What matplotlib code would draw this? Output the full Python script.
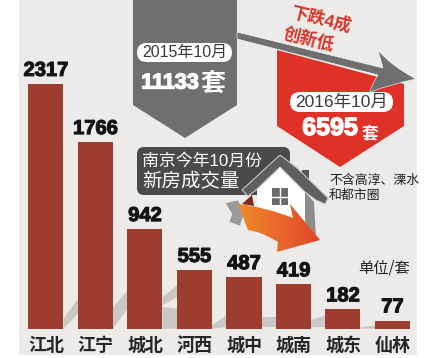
import matplotlib
matplotlib.use("Agg")
import numpy as np
import matplotlib.pyplot as plt
import matplotlib.patheffects as pe
from matplotlib.colors import LinearSegmentedColormap
from matplotlib.patches import Polygon, FancyBboxPatch, PathPatch, Rectangle
from matplotlib.path import Path

districts = ['江北', '江宁', '城北', '河西', '城中', '城南', '城东', '仙林']
deals = [2317, 1766, 942, 555, 487, 419, 182, 77]

total_2015 = '11133'
total_2016 = '6595'

cjk = 'Noto Sans CJK SC'
latin = ['Liberation Sans', 'Noto Sans CJK SC']
plt.rcParams['font.family'] = [cjk, 'DejaVu Sans']

BG = '#ecebe9'
BAR = '#9c3d30'
GREY = '#6f6f6f'
RED = '#e03129'
DARK = '#4a4a4a'
SHADOW = '#c9c8c6'

fig = plt.figure(figsize=(4.25, 3.58), dpi=100, facecolor='white')

# pixel axes for the poster decoration
deco = fig.add_axes([0, 0, 1, 1], zorder=0)
deco.set_xlim(0, 425)
deco.set_ylim(358, 0)
deco.axis('off')

deco.add_patch(Rectangle((19, 0), 398, 355, fc=BG, ec='none'))

# bars in real data units
base_px = 328.7
step_px = 49.5
first_px = 46
unit_px = 0.1056
ax = fig.add_axes([0, (358 - base_px) / 358, 1, base_px / 358], zorder=1)
ax.patch.set_alpha(0)
ax.set_xlim(-first_px / step_px, (425 - first_px) / step_px)
ax.set_ylim(0, base_px / unit_px)
for s in ax.spines.values():
    s.set_visible(False)
ax.set_yticks([])

w = 35 / step_px
xs = list(range(len(deals)))

# cast shadows between bars: gap index, low and high edge on both sides
shadows = [(0, 0, 95, 142, 284), (1, 0, 205, 189, 363), (2, 221, 300, 300, 410), (2, 0, 205, 0, 190),
           (3, 0, 35, 15, 126), (4, 15, 110, 15, 110), (5, 15, 80, 15, 126), (6, 0, 15, 0, 30)]
for i, lo0, hi0, lo1, hi1 in shadows:
    r = i + w / 2
    ax.fill([r, r, r + 1 - w, r + 1 - w], [lo0, hi0, hi1, lo1], color=SHADOW, lw=0, zorder=1)

ax.bar(xs, deals, width=w, color=BAR, zorder=2)
ax.set_xticks(xs)
ax.set_xticklabels(districts, fontsize=13, fontweight='bold', color='#262626')
ax.tick_params(axis='x', length=0, pad=5)
for x, v in zip(xs, deals):
    ax.annotate(str(v), (x, v), xytext=(0, 3), textcoords='offset points', ha='center', va='bottom',
                family='Liberation Sans', fontsize=14.5, fontweight='bold', color='#141414', annotation_clip=False,
                path_effects=[pe.withStroke(linewidth=0.8, foreground='#141414')])

# the two pentagons
deco.add_patch(Polygon([(133, 0), (237, 0), (237, 105), (185, 138), (133, 105)], fc=GREY, ec='none'))
deco.add_patch(Polygon([(277, 50), (404, 84), (404, 126), (340, 167), (277, 126)], fc=RED, ec='none'))

# arrow running from 2015 to 2016
arrow_verts = [(237, 32), (383, 68), (378, 50), (390, 65), (416, 79), (392, 84), (370, 92),
               (372, 84), (378, 75), (237, 39), (237, 32)]
arrow_codes = [Path.MOVETO, Path.LINETO, Path.LINETO, Path.CURVE3, Path.CURVE3, Path.CURVE3, Path.CURVE3,
               Path.CURVE3, Path.CURVE3, Path.LINETO, Path.CLOSEPOLY]
deco.add_patch(PathPatch(Path(arrow_verts, arrow_codes), fc=GREY, ec='white', lw=0.4))

deco.text(321, 19, '下跌4成', rotation=-14, ha='center', va='center', rotation_mode='anchor',
          family=latin, fontsize=12.5, fontweight='bold', color='#d8352b')
deco.text(309, 39, '创新低', rotation=-14, ha='center', va='center', rotation_mode='anchor',
          fontsize=12.5, fontweight='bold', color='#d8352b')


def pill(x0, y0, x1, y1, label, size):
    r = (y1 - y0) / 2
    deco.add_patch(FancyBboxPatch((x0, y0), x1 - x0, y1 - y0, boxstyle=f'round,pad=0,rounding_size={r}',
                                  fc='white', ec='none'))
    deco.text((x0 + x1) / 2, (y0 + y1) / 2, label, ha='center', va='center', family=latin, fontsize=size,
              color='#3a3a3a')


pill(137, 43, 232, 62, '2015年10月', 11.5)
pill(290, 92, 393, 112, '2016年10月', 12.5)

white_stroke = [pe.withStroke(linewidth=1.0, foreground='white')]
deco.text(170, 83, total_2015, ha='center', va='center', family='Liberation Sans', fontsize=15.5, fontweight='bold',
          color='white', path_effects=white_stroke)
deco.text(213, 84, '套', ha='center', va='center', fontsize=18, fontweight='bold', color='white')
deco.text(330, 128, total_2016, ha='center', va='center', family='Liberation Sans', fontsize=18, fontweight='bold',
          color='white', path_effects=white_stroke)
deco.text(370, 133, '套', ha='center', va='center', fontsize=12, fontweight='bold', color='white')

# dark caption box
deco.add_patch(FancyBboxPatch((137, 147), 153, 48, boxstyle='round,pad=0,rounding_size=7', fc=DARK, ec='none'))
deco.text(142, 161, '南京今年10月份', ha='left', va='center', family=latin, fontsize=12.2, fontweight='medium',
          color='white')
deco.text(142, 182, '新房成交量', ha='left', va='center', fontsize=14, fontweight='medium', color='white')

# house
deco.add_patch(Polygon([(225, 203), (238, 200), (245, 212), (240, 226), (229, 222), (232, 214)], fc='#9a9a9a',
                       ec='#e6e6e6', lw=0.6, zorder=3))
deco.add_patch(Polygon([(242, 204), (252, 195), (254, 206)], fc='#7a2a20', ec='none', zorder=3))
deco.add_patch(Polygon([(302, 170), (309, 170), (309, 190), (302, 186)], fc='#555555', ec='none', zorder=3))
deco.add_patch(Polygon([(257, 187), (280, 165), (305, 192), (305, 235), (257, 235)], fc='white', ec='none', zorder=3))
deco.add_patch(Polygon([(305, 192), (314, 202), (316, 238), (305, 222)], fc='#8c8c8c', ec='none', zorder=3))
deco.add_patch(Polygon([(242, 190), (280, 155), (297, 168), (328, 198), (325, 204), (316, 200), (305, 192),
                        (280, 167), (255, 191), (248, 196)], fc='#5f5f5f', ec='#c4c4c4', lw=0.8, zorder=4))
deco.add_patch(Rectangle((272, 188), 16, 17, fc='#6a6a6a', ec='none', zorder=4))
deco.plot([280, 280], [188, 205], color='white', lw=1, zorder=5)
deco.plot([272, 288], [196.5, 196.5], color='white', lw=1, zorder=5)

# orange arrow across the house
orange_verts = [(238, 204), (265, 207), (293, 218), (290, 204), (320, 240), (277, 252), (278, 242),
                (262, 232), (248, 230), (238, 204)]
orange_codes = [Path.MOVETO, Path.CURVE3, Path.CURVE3, Path.LINETO, Path.LINETO, Path.LINETO, Path.LINETO,
                Path.CURVE3, Path.CURVE3, Path.CLOSEPOLY]
orange_path = PathPatch(Path(orange_verts, orange_codes), fc='none', ec='none', zorder=6)
deco.add_patch(orange_path)
ramp = LinearSegmentedColormap.from_list('ramp', ['#f08a2c', '#e2452a'])
grad = deco.imshow(np.linspace(0, 1, 64).reshape(1, -1), extent=(238, 320, 252, 204), cmap=ramp, aspect='auto',
                   zorder=6)
grad.set_clip_path(orange_path)
deco.set_xlim(0, 425)
deco.set_ylim(358, 0)

deco.text(329, 180, '不含高淳、溧水', ha='left', va='center', fontsize=9.3, fontweight='medium', color='#222222')
deco.text(329, 195, '和都市圈', ha='left', va='center', fontsize=9.3, fontweight='medium', color='#222222')
deco.text(410, 268, '单位/套', ha='right', va='center', fontsize=11, fontweight='medium', color='#222222')

fig.savefig('out.png', dpi=100)
